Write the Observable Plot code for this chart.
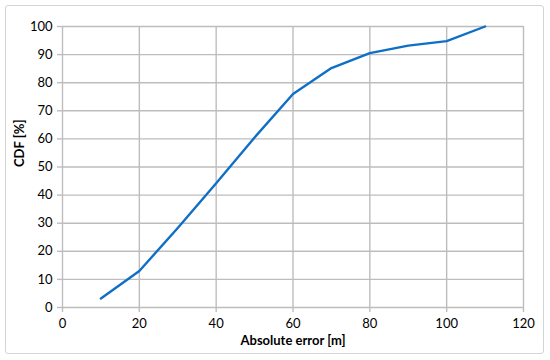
<!DOCTYPE html>
<html><head><meta charset="utf-8">
<script src="https://cdn.jsdelivr.net/npm/d3@7"></script>
<script src="https://cdn.jsdelivr.net/npm/@observablehq/plot@0.6"></script>
<style>
body{margin:0;background:#fff;}
#wrap{position:relative;width:550px;height:360px;}
#box{position:absolute;left:5px;top:5px;width:537px;height:347px;border:1.5px solid #d4d4d4;border-radius:3px;}
#chart{position:absolute;left:0;top:0;}
</style></head>
<body><div id="wrap"><div id="box"></div><div id="chart"></div></div>
<script>
const xValues = [10, 20, 30, 40, 50, 60, 70, 80, 90, 100, 110];
const cdfValues = [3.2, 13, 28.3, 44.2, 60.5, 76, 85.2, 90.5, 93.2, 94.8, 100];
const xTicks = [0, 20, 40, 60, 80, 100, 120];
const yTicks = [0, 10, 20, 30, 40, 50, 60, 70, 80, 90, 100];
const xLabel = "Absolute error [m]";
const yLabel = "CDF [%]";

const data = xValues.map((x, i) => ({x, y: cdfValues[i]}));
const grid = "#bdbdbd";

const chart = Plot.plot({
  width: 550, height: 360,
  marginLeft: 62, marginRight: 27, marginTop: 26, marginBottom: 53,
  style: {fontFamily: "Lato, 'Open Sans', sans-serif", fontSize: "13px", color: "#000", background: "transparent"},
  x: {domain: [0, 120]},
  y: {domain: [0, 100]},
  marks: [
    Plot.ruleY(yTicks, {stroke: grid, strokeWidth: 1.4}),
    Plot.ruleX(xTicks, {stroke: grid, strokeWidth: 1.4}),
    Plot.axisY({ticks: yTicks, tickSize: 5, tickPadding: 5, stroke: grid, strokeWidth: 1.4, label: null, fill: "#000", fontSize: 13}),
    Plot.axisX({ticks: xTicks, tickSize: 5, tickPadding: 6, stroke: grid, strokeWidth: 1.4, label: null, fill: "#000", fontSize: 13}),
    Plot.text([xLabel], {frameAnchor: "bottom", dy: 37, fontWeight: "bold", fontSize: 13, fill: "#000"}),
    Plot.text([yLabel], {frameAnchor: "left", dx: -43, rotate: -90, fontWeight: "bold", fontSize: 13, fill: "#000"}),
    Plot.line(data, {x: "x", y: "y", stroke: "#0f6fc6", strokeWidth: 2.4})
  ]
});
document.getElementById("chart").append(chart);
</script></body></html>
